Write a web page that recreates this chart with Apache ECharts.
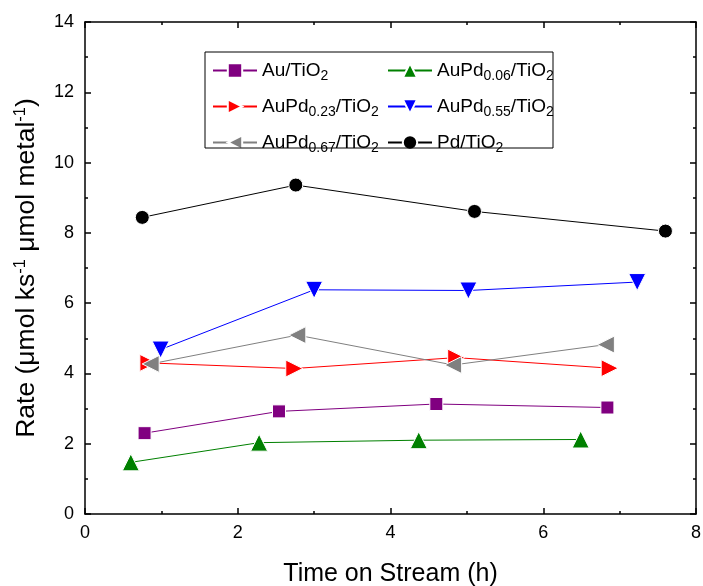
<!DOCTYPE html>
<html>
<head>
<meta charset="utf-8">
<script src="https://cdn.jsdelivr.net/npm/echarts@6/dist/echarts.min.js"></script>
<style>
  html, body { margin: 0; padding: 0; background: #fff; }
  #chart { width: 703px; height: 586px; }
</style>
</head>
<body>
<div id="chart"></div>
<script>
// Reaction rate versus time on stream for each catalyst
const auX = [0.78, 2.54, 4.60, 6.84];
const auY = [2.30, 2.92, 3.13, 3.03];

const auPd006X = [0.60, 2.28, 4.37, 6.49];
const auPd006Y = [1.47, 2.03, 2.10, 2.12];

const auPd023X = [0.83, 2.74, 4.86, 6.87];
const auPd023Y = [4.30, 4.14, 4.45, 4.15];

const auPd055X = [0.99, 3.00, 5.02, 7.23];
const auPd055Y = [4.68, 6.38, 6.36, 6.60];

const auPd067X = [0.86, 2.78, 4.82, 6.82];
const auPd067Y = [4.27, 5.09, 4.24, 4.82];

const pdX = [0.75, 2.76, 5.10, 7.60];
const pdY = [8.44, 9.36, 8.61, 8.05];

const xTicks = [0, 2, 4, 6, 8];
const yTicks = [0, 2, 4, 6, 8, 10, 12, 14];

// name parts: metal and the Pd fraction shown as a subscript
const catalysts = [
  { key: 'Au/TiO2',       metal: 'Au',   frac: '',     x: auX,      y: auY,      color: '#800080', symbol: 'rect',     rot: 0,   size: 13 },
  { key: 'AuPd0.06/TiO2', metal: 'AuPd', frac: '0.06', x: auPd006X, y: auPd006Y, color: '#008000', symbol: 'triangle', rot: 0,   size: 17 },
  { key: 'AuPd0.23/TiO2', metal: 'AuPd', frac: '0.23', x: auPd023X, y: auPd023Y, color: '#ff0000', symbol: 'triangle', rot: -90, size: 17 },
  { key: 'AuPd0.55/TiO2', metal: 'AuPd', frac: '0.55', x: auPd055X, y: auPd055Y, color: '#0000ff', symbol: 'triangle', rot: 180, size: 17 },
  { key: 'AuPd0.67/TiO2', metal: 'AuPd', frac: '0.67', x: auPd067X, y: auPd067Y, color: '#808080', symbol: 'triangle', rot: 90,  size: 17 },
  { key: 'Pd/TiO2',       metal: 'Pd',   frac: '',     x: pdX,      y: pdY,      color: '#000000', symbol: 'circle',   rot: 0,   size: 14 }
];

function richName(c) {
  let s = '{t|' + c.metal + '}';
  if (c.frac) s += '{s|' + c.frac + '}';
  s += '{t|/TiO}{s|2}';
  return s;
}
const nameMap = {};
catalysts.forEach(c => { nameMap[c.key] = richName(c); });

const FONT = '"Liberation Sans", Arial, sans-serif';
const legendRich = {
  t: { fontFamily: FONT, fontSize: 19, color: '#000', lineHeight: 22 },
  s: { fontFamily: FONT, fontSize: 14, color: '#000', lineHeight: 14, padding: [11, 0, 0, 0] }
};

const series = catalysts.map(c => ({
  name: c.key,
  type: 'line',
  data: c.x.map((v, i) => [v, c.y[i]]),
  symbol: c.symbol,
  symbolSize: c.size,
  symbolRotate: c.rot,
  showAllSymbol: true,
  color: c.color,
  lineStyle: { color: c.color, width: 1 },
  itemStyle: { color: c.color, borderColor: '#fff', borderWidth: 1 },
  emphasis: { disabled: true },
  animation: false,
  z: 3
}));

function legendFor(keys, left) {
  return {
    data: keys,
    orient: 'vertical',
    left: left,
    top: 53,
    itemWidth: 44,
    itemHeight: 18,
    itemGap: 11,
    formatter: name => nameMap[name],
    textStyle: { rich: legendRich },
    selectedMode: false
  };
}

const axisLineStyle = { color: '#000', width: 1.5 };
const tickStyle = { color: '#000', width: 1.5 };

const chart = echarts.init(document.getElementById('chart'), null, { renderer: 'canvas' });
chart.setOption({
  backgroundColor: '#fff',
  animation: false,
  grid: { left: 85, right: 7, top: 22, bottom: 72, containLabel: false, outerBoundsMode: 'none' },
  legend: [
    legendFor(['Au/TiO2', 'AuPd0.23/TiO2', 'AuPd0.67/TiO2'], 207),
    legendFor(['AuPd0.06/TiO2', 'AuPd0.55/TiO2', 'Pd/TiO2'], 382)
  ],
  graphic: [{
    type: 'rect',
    shape: { x: 205, y: 52, width: 348, height: 96 },
    style: { fill: 'none', stroke: '#000', lineWidth: 1 },
    z: 10
  }],
  xAxis: [{
    type: 'value',
    min: xTicks[0], max: xTicks[xTicks.length - 1], interval: 2,
    position: 'bottom',
    name: 'Time on Stream (h)',
    nameLocation: 'middle',
    nameGap: 48,
    nameTextStyle: { fontFamily: FONT, fontSize: 25, color: '#000' },
    axisLine: { show: true, onZero: false, lineStyle: axisLineStyle },
    axisTick: { show: true, inside: true, length: 6, lineStyle: tickStyle },
    minorTick: { show: true, splitNumber: 2, length: 3, lineStyle: tickStyle },
    axisLabel: { fontFamily: FONT, fontSize: 18, color: '#000', margin: 10 },
    splitLine: { show: false }
  }, {
    type: 'value',
    min: xTicks[0], max: xTicks[xTicks.length - 1], interval: 2,
    position: 'top',
    axisLine: { show: true, onZero: false, lineStyle: axisLineStyle },
    axisTick: { show: true, inside: true, length: 6, lineStyle: tickStyle },
    minorTick: { show: true, splitNumber: 2, length: 3, lineStyle: tickStyle },
    axisLabel: { show: false },
    splitLine: { show: false }
  }],
  yAxis: [{
    type: 'value',
    min: yTicks[0], max: yTicks[yTicks.length - 1], interval: 2,
    position: 'left',
    name: '{t|Rate (μmol ks}{p|-1}{t| μmol metal}{p|-1}{t|)}',
    nameLocation: 'middle',
    nameGap: 43,
    nameRotate: 90,
    nameTextStyle: {
      rich: {
        t: { fontFamily: FONT, fontSize: 26.5, color: '#000', lineHeight: 30 },
        p: { fontFamily: FONT, fontSize: 16.5, color: '#000', lineHeight: 16, padding: [0, 0, 13, 0] }
      }
    },
    axisLine: { show: true, onZero: false, lineStyle: axisLineStyle },
    axisTick: { show: true, inside: true, length: 6, lineStyle: tickStyle },
    minorTick: { show: true, splitNumber: 2, length: 3, lineStyle: tickStyle },
    axisLabel: { fontFamily: FONT, fontSize: 18, color: '#000', margin: 11 },
    splitLine: { show: false }
  }, {
    type: 'value',
    min: yTicks[0], max: yTicks[yTicks.length - 1], interval: 2,
    position: 'right',
    axisLine: { show: true, onZero: false, lineStyle: axisLineStyle },
    axisTick: { show: true, inside: true, length: 6, lineStyle: tickStyle },
    minorTick: { show: true, splitNumber: 2, length: 3, lineStyle: tickStyle },
    axisLabel: { show: false },
    splitLine: { show: false }
  }],
  series: series
});
</script>
</body>
</html>
